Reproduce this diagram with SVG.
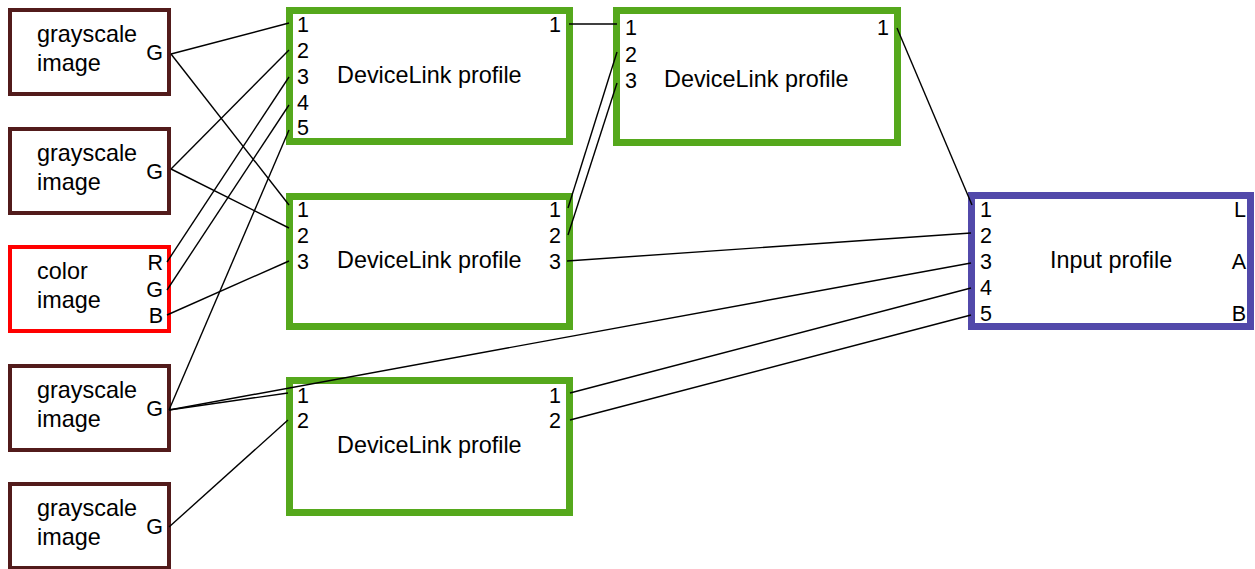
<svg xmlns="http://www.w3.org/2000/svg" width="1255" height="569" viewBox="0 0 1255 569">
<style>
  .img { fill: #ffffff; stroke: #521b1b; stroke-width: 4; }
  .col { fill: #ffffff; stroke: #ff0000; stroke-width: 4; }
  .dl { fill: #ffffff; stroke: #55a81c; stroke-width: 7; }
  .inp { fill: #ffffff; stroke: #5249aa; stroke-width: 7; }
  text { font-family: "Liberation Sans", Arial, sans-serif; fill: #000000; }
  .t { font-size: 23.4px; }
  .p { font-size: 21.5px; }
  .e { text-anchor: end; }
  .c line { stroke: #000000; stroke-width: 1.4; }
</style>
<rect width="1255" height="569" fill="#ffffff"/>

<g id="img1">
  <rect class="img" x="10" y="10" width="159" height="84"/>
  <text class="t" x="37" y="42">grayscale</text>
  <text class="t" x="37" y="71">image</text>
  <text class="p e" x="163" y="60">G</text>
</g>
<g id="img2">
  <rect class="img" x="10" y="129" width="159" height="84"/>
  <text class="t" x="37" y="161">grayscale</text>
  <text class="t" x="37" y="190">image</text>
  <text class="p e" x="163" y="179">G</text>
</g>
<g id="img3">
  <rect class="col" x="10" y="247" width="159" height="84"/>
  <text class="t" x="37" y="279">color</text>
  <text class="t" x="37" y="308">image</text>
  <text class="p e" x="163" y="270">R</text>
  <text class="p e" x="163" y="297">G</text>
  <text class="p e" x="163" y="323">B</text>
</g>
<g id="img4">
  <rect class="img" x="10" y="366" width="159" height="84"/>
  <text class="t" x="37" y="398">grayscale</text>
  <text class="t" x="37" y="427">image</text>
  <text class="p e" x="163" y="416">G</text>
</g>
<g id="img5">
  <rect class="img" x="10" y="484" width="159" height="84"/>
  <text class="t" x="37" y="516">grayscale</text>
  <text class="t" x="37" y="545">image</text>
  <text class="p e" x="163" y="534">G</text>
</g>

<g id="dl1">
  <rect class="dl" x="289.5" y="10.5" width="280" height="131"/>
  <text class="t" x="337" y="83">DeviceLink profile</text>
  <text class="p" x="297" y="32">1</text>
  <text class="p" x="297" y="58">2</text>
  <text class="p" x="297" y="84">3</text>
  <text class="p" x="297" y="110">4</text>
  <text class="p" x="297" y="135">5</text>
  <text class="p e" x="561" y="32">1</text>
</g>
<g id="dl2">
  <rect class="dl" x="616.5" y="10.5" width="281" height="132"/>
  <text class="t" x="664" y="87">DeviceLink profile</text>
  <text class="p" x="625" y="35">1</text>
  <text class="p" x="625" y="62">2</text>
  <text class="p" x="625" y="88">3</text>
  <text class="p e" x="889" y="35">1</text>
</g>
<g id="dl3">
  <rect class="dl" x="289.5" y="196.5" width="280" height="130"/>
  <text class="t" x="337" y="268">DeviceLink profile</text>
  <text class="p" x="297" y="217">1</text>
  <text class="p" x="297" y="243">2</text>
  <text class="p" x="297" y="269">3</text>
  <text class="p e" x="561" y="217">1</text>
  <text class="p e" x="561" y="243">2</text>
  <text class="p e" x="561" y="269">3</text>
</g>
<g id="dl4">
  <rect class="dl" x="289.5" y="380.5" width="280" height="132"/>
  <text class="t" x="337" y="453">DeviceLink profile</text>
  <text class="p" x="297" y="403">1</text>
  <text class="p" x="297" y="428">2</text>
  <text class="p e" x="561" y="403">1</text>
  <text class="p e" x="561" y="428">2</text>
</g>
<g id="input">
  <rect class="inp" x="971.5" y="195.5" width="279" height="131"/>
  <text class="t" x="1050" y="268">Input profile</text>
  <text class="p" x="980" y="217">1</text>
  <text class="p" x="980" y="243">2</text>
  <text class="p" x="980" y="269">3</text>
  <text class="p" x="980" y="295">4</text>
  <text class="p" x="980" y="321">5</text>
  <text class="p e" x="1246" y="217">L</text>
  <text class="p e" x="1246" y="269">A</text>
  <text class="p e" x="1246" y="321">B</text>
</g>

<g id="connectors" class="c">
  <line x1="171" y1="54" x2="289" y2="23"/>
  <line x1="171" y1="54" x2="289" y2="205"/>
  <line x1="171" y1="169" x2="289" y2="50"/>
  <line x1="171" y1="169" x2="289" y2="228"/>
  <line x1="167" y1="262" x2="289" y2="77"/>
  <line x1="167" y1="290" x2="289" y2="105"/>
  <line x1="167" y1="315" x2="289" y2="261"/>
  <line x1="169" y1="410" x2="289" y2="130"/>
  <line x1="169" y1="410" x2="288" y2="393"/>
  <line x1="169" y1="410" x2="971" y2="263"/>
  <line x1="169" y1="527" x2="288" y2="420"/>
  <line x1="569" y1="24" x2="617" y2="24"/>
  <line x1="568" y1="208" x2="617" y2="52"/>
  <line x1="568" y1="235" x2="617" y2="83"/>
  <line x1="567" y1="261" x2="971" y2="233"/>
  <line x1="570" y1="393" x2="971" y2="288"/>
  <line x1="570" y1="420" x2="971" y2="315"/>
  <line x1="897" y1="28" x2="972" y2="205"/>
</g>
</svg>
